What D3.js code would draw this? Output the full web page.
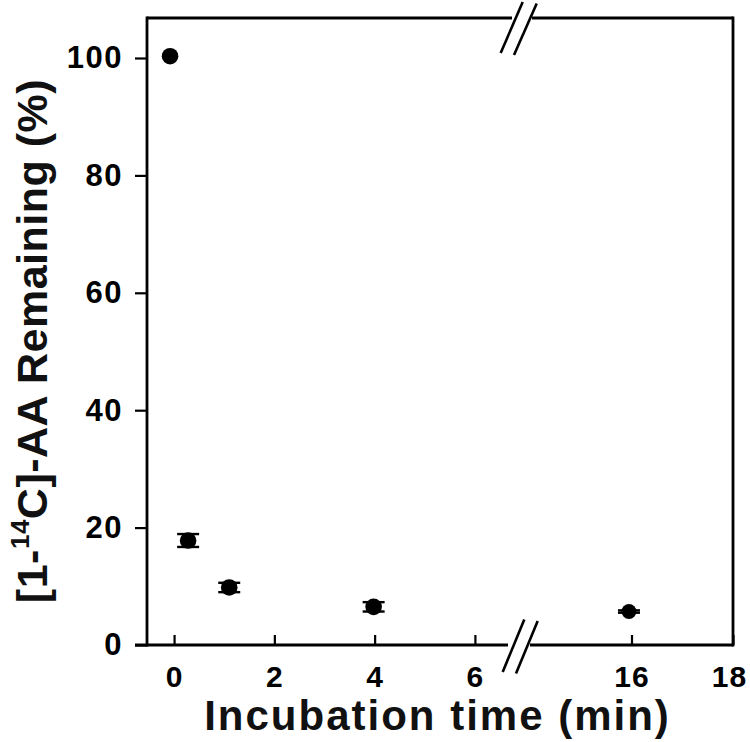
<!DOCTYPE html>
<html><head><meta charset="utf-8">
<script src="https://cdn.jsdelivr.net/npm/d3@7"></script>
<style>body{margin:0;background:#fff}svg{display:block}</style>
</head><body>
<svg id="c" width="750" height="742"></svg>
<script>
// Data
const times = [-0.08, 0.28, 1.1, 3.98, 15.95];
const remaining = [100.3, 17.8, 9.8, 6.5, 5.7];
const errors = [0, 1.1, 0.8, 0.8, 0.2];
const xTicksLeft = [0, 2, 4, 6];
const xTicksRight = [16, 18];
const yTicks = [0, 20, 40, 60, 80, 100];

const svg = d3.select("#c");
const L = 147, R = 733, T = 18, B = 645;
const gapL = 508, gapR = 530;
const xL = d3.scaleLinear().domain([-0.54, 6.66]).range([L, gapL]);
const xR = d3.scaleLinear().domain([14.0, 18]).range([gapR, R]);
const x = v => v < 10 ? xL(v) : xR(v);
const y = d3.scaleLinear().domain([0, 100]).range([B, 58]);
const font = "'Liberation Sans', Arial, Helvetica, sans-serif";
const sw = 2.8;

// frame
const g = svg.append("g").attr("stroke", "#000").attr("stroke-width", sw).attr("fill", "none");
g.append("line").attr("x1", L).attr("x2", L).attr("y1", T - sw/2).attr("y2", B + sw/2);
g.append("line").attr("x1", R).attr("x2", R).attr("y1", T - sw/2).attr("y2", B + sw/2);
g.append("line").attr("x1", L).attr("x2", 512).attr("y1", T).attr("y2", T);
g.append("line").attr("x1", 532).attr("x2", R).attr("y1", T).attr("y2", T);
g.append("line").attr("x1", L - 12).attr("x2", gapL).attr("y1", B).attr("y2", B);
g.append("line").attr("x1", gapR).attr("x2", R).attr("y1", B).attr("y2", B);

// break marks
const brk = svg.append("g").attr("stroke", "#000").attr("stroke-width", 2.6);
[[500.7, 53, 522.7, 2], [514, 55, 536.7, 3.5], [502.7, 672, 524.3, 619.5], [516, 673.5, 537.7, 621]]
  .forEach(s => brk.append("line").attr("x1", s[0]).attr("y1", s[1]).attr("x2", s[2]).attr("y2", s[3]));

// y axis
const yAxis = d3.axisLeft(y).tickValues(yTicks).tickSize(12).tickPadding(12).tickFormat(d3.format("d"));
const ya = svg.append("g").attr("transform", `translate(${L},0)`).call(yAxis);
ya.select(".domain").remove();
ya.selectAll(".tick line").attr("stroke-width", 2.2);
ya.selectAll(".tick text").attr("font-family", font).attr("font-size", 31).attr("font-weight", "bold")
  .attr("letter-spacing", 1.5).attr("fill", "#000");

// x axes (ticks inside)
function xAxisPart(scale, vals) {
  const ax = d3.axisBottom(scale).tickValues(vals).tickSize(-10).tickPadding(21).tickFormat(d3.format("d"));
  const a = svg.append("g").attr("transform", `translate(0,${B})`).call(ax);
  a.select(".domain").remove();
  a.selectAll(".tick line").attr("stroke-width", 2.2);
  a.selectAll(".tick text").attr("font-family", font).attr("font-size", 30).attr("font-weight", "bold")
    .attr("letter-spacing", 1).attr("fill", "#000")
    .attr("dx", d => d === 18 ? -4 : 0);
}
xAxisPart(xL, xTicksLeft);
xAxisPart(xR, xTicksRight);

// error bars
const data = times.map((t, i) => ({t, v: remaining[i], e: errors[i]}));
const eb = svg.append("g").attr("stroke", "#000").attr("stroke-width", 2.4);
data.filter(d => d.e > 0).forEach(d => {
  eb.append("line").attr("x1", x(d.t)).attr("x2", x(d.t)).attr("y1", y(d.v - d.e)).attr("y2", y(d.v + d.e));
  [d.v - d.e, d.v + d.e].forEach(v => eb.append("line")
    .attr("x1", x(d.t) - 11).attr("x2", x(d.t) + 11).attr("y1", y(v)).attr("y2", y(v)));
});

// points
svg.append("g").selectAll("circle").data(data).join("circle")
  .attr("cx", d => x(d.t)).attr("cy", d => y(d.v)).attr("r", (d, i) => i === 4 ? 7.5 : 8.3).attr("fill", "#000");

// x title
svg.append("text").attr("x", 437.5).attr("y", 730).attr("text-anchor", "middle")
  .attr("font-family", font).attr("font-size", 42).attr("font-weight", "bold").attr("letter-spacing", 2)
  .attr("fill", "#111").text("Incubation time (min)");

// y title
const yt = svg.append("text").attr("transform", "translate(47,341) rotate(-90)").attr("text-anchor", "middle")
  .attr("font-family", font).attr("font-size", 43).attr("font-weight", "bold").attr("letter-spacing", 0.5)
  .attr("fill", "#111");
yt.append("tspan").text("[1-");
yt.append("tspan").attr("font-size", 26).attr("dy", -18).text("14");
yt.append("tspan").attr("dy", 18).text("C]-AA Remaining (%)");
</script>
</body></html>
